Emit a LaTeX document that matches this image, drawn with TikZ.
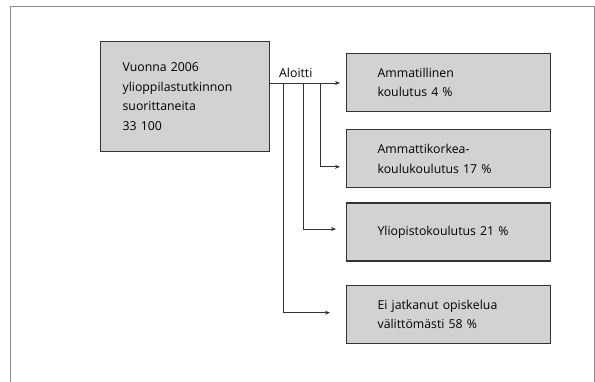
\documentclass[tikz,border=0pt]{standalone}
\usepackage{fontspec}
\setmainfont{Open Sans}
\usepackage{xcolor}
\usepackage{tikz}
\usetikzlibrary{positioning, calc, arrows.meta}

\definecolor{boxfill}{HTML}{D2D2D2}
\definecolor{boxline}{HTML}{333333}
\definecolor{frameline}{HTML}{8C8C8C}

\begin{document}
\begin{tikzpicture}[
    x=1pt, y=-1pt,
    node distance=17pt,
    box/.style={draw=boxline, line width=1.2pt, fill=boxfill, anchor=north west,
        align=left, font=\fontsize{12.3}{19.5}\selectfont, inner ysep=2pt},
    src/.style={box, minimum width=169pt, minimum height=110pt, text width=125pt, inner xsep=22pt},
    dest/.style={box, minimum width=204pt, minimum height=58pt, text width=142pt, inner xsep=31pt},
    arr/.style={-{Stealth[length=5pt, width=4pt]}, line width=0.9pt, draw=boxline},
]
\useasboundingbox (0,0) rectangle (595,382);

% Frame
\draw[frameline, line width=1pt] (10,382) |- (594,7) -- (594,382);

% Start
\node[src] (start) at (100,41) {Vuonna 2006\\ylioppilastutkinnon\\suorittaneita\\33 100};

% Targets
\node[dest] (amm) at (346,53) {Ammatillinen\\koulutus 4~\%};
\node[dest, below=17pt of amm.south west, anchor=north west] (amk) {Ammattikorkea-\\koulukoulutus 17~\%};
\node[dest, below=14pt of amk.south west, anchor=north west] (yo) {Yliopistokoulutus~21~\%};
\node[dest, below=23pt of yo.south west, anchor=north west] (ei) {Ei jatkanut opiskelua\\välittömästi 58~\%};

% Branch points
\coordinate (main) at (start.east |- 0,83);
\coordinate (br1) at (320,83);
\coordinate (br2) at (303,83);
\coordinate (br3) at (283,83);

\node[font=\fontsize{12.3}{14}\selectfont, anchor=south west, inner sep=0pt] (aloitti) at (279,78) {Aloitti};

\draw[arr, shorten >=6pt] (main) -- (main -| amm.west);
\draw[arr, shorten >=6pt] (br1) |- ($(amk.west)+(0,8)$);
\draw[arr, shorten >=10pt] (br2) |- ($(yo.west)+(0,-3)$);
\draw[arr, shorten >=16pt] (br3) |- ($(ei.west)+(0,-1.5)$);

\end{tikzpicture}
\end{document}
